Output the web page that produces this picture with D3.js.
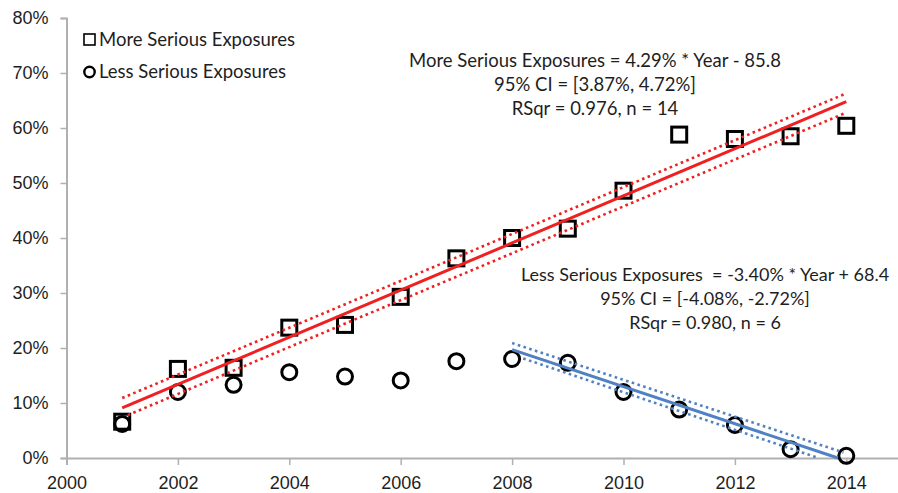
<!DOCTYPE html>
<html>
<head>
<meta charset="utf-8">
<script src="https://cdn.jsdelivr.net/npm/d3@7"></script>
<style>
  body { margin: 0; background: #fff; }
  svg { display: block; font-family: Lato, "Open Sans", sans-serif; }
</style>
</head>
<body>
<svg width="898" height="493"></svg>
<script>
// data
var years = [2001, 2002, 2003, 2004, 2005, 2006, 2007, 2008, 2009, 2010, 2011, 2012, 2013, 2014];
var moreSerious = [6.6, 16.2, 16.4, 23.7, 24.2, 29.3, 36.3, 40.0, 41.7, 48.6, 58.8, 58.0, 58.5, 60.4];
var lessSerious = [6.2, 12.0, 13.3, 15.6, 14.8, 14.1, 17.6, 18.0, 17.3, 12.0, 8.8, 6.0, 1.6, 0.4];

// trend lines and their confidence bounds (year, percent)
var moreFit = [[2001, 9.1], [2014, 64.8]];
var moreUpper = [[2001, 10.9], [2014, 66.3]];
var moreLower = [[2001.1, 7.8], [2014, 62.8]];
var lessFit = [[2008, 19.7], [2013.85, 0]];
var lessUpper = [[2008, 20.9], [2013.95, 1.0]];
var lessLower = [[2008.2, 18.1], [2013.5, 0]];

var yTicks = [0, 10, 20, 30, 40, 50, 60, 70, 80];
var xTicks = [2000, 2002, 2004, 2006, 2008, 2010, 2012, 2014];

var moreLabel = ["More Serious Exposures = 4.29% * Year - 85.8", "95% CI = [3.87%, 4.72%]", "RSqr = 0.976, n = 14"];
var lessLabel = ["Less Serious Exposures  = -3.40% * Year + 68.4", "95% CI = [-4.08%, -2.72%]", "RSqr = 0.980, n = 6"];

var svg = d3.select("svg");
var x = d3.scaleLinear().domain([2000, 2015]).range([66.5, 902]);
var y = d3.scaleLinear().domain([0, 80]).range([458, 18]);
var axisColor = "#b0b0b0";
var textColor = "#1e1e1e";

// y axis
var gy = svg.append("g")
  .attr("transform", "translate(66.5,0)")
  .call(d3.axisLeft(y).tickValues(yTicks).tickSize(6).tickPadding(12)
    .tickFormat(function(d) { return d + "%"; }));
gy.select(".domain").attr("stroke", axisColor).attr("stroke-width", 2);
gy.selectAll(".tick line").attr("stroke", axisColor).attr("stroke-width", 1.5);
gy.selectAll("text").attr("fill", textColor).attr("font-size", 18);

// x axis
var gx = svg.append("g")
  .attr("transform", "translate(0,458)")
  .call(d3.axisBottom(x).tickValues(xTicks).tickSize(7).tickPadding(11)
    .tickFormat(d3.format("d")));
gx.select(".domain").attr("stroke", axisColor).attr("stroke-width", 2);
gx.selectAll(".tick line").attr("stroke", axisColor).attr("stroke-width", 1.5);
gx.selectAll("text").attr("fill", textColor).attr("font-size", 18);

// markers
var marks = svg.append("g");
marks.selectAll("rect.more")
  .data(years.map(function(yr, i) { return [yr, moreSerious[i]]; }))
  .enter().append("rect")
  .attr("class", "more")
  .attr("x", function(d) { return x(d[0]) - 7.5; })
  .attr("y", function(d) { return y(d[1]) - 7.5; })
  .attr("width", 15).attr("height", 15)
  .attr("fill", "none").attr("stroke", "#000").attr("stroke-width", 3);

marks.selectAll("circle.less")
  .data(years.map(function(yr, i) { return [yr, lessSerious[i]]; }))
  .enter().append("circle")
  .attr("class", "less")
  .attr("cx", function(d) { return x(d[0]); })
  .attr("cy", function(d) { return y(d[1]); })
  .attr("r", 7.5)
  .attr("fill", "none").attr("stroke", "#000").attr("stroke-width", 3);

// trend lines
var line = d3.line().x(function(d) { return x(d[0]); }).y(function(d) { return y(d[1]); });
var red = "#f02020", blue = "#4f81c4";
function trend(data, color, dotted) {
  svg.append("path").datum(data)
    .attr("d", line)
    .attr("fill", "none")
    .attr("stroke", color)
    .attr("stroke-width", dotted ? 2.6 : 3)
    .attr("stroke-dasharray", dotted ? "2.6,3.4" : null);
}
trend(moreUpper, red, true);
trend(moreLower, red, true);
trend(moreFit, red, false);
trend(lessUpper, blue, true);
trend(lessLower, blue, true);
trend(lessFit, blue, false);

// legend
var legend = svg.append("g").attr("font-size", 18.5).attr("fill", textColor);
legend.append("rect").attr("x", 84).attr("y", 34).attr("width", 11).attr("height", 11)
  .attr("fill", "none").attr("stroke", "#000").attr("stroke-width", 1.6);
legend.append("text").attr("x", 99).attr("y", 46).text("More Serious Exposures");
legend.append("circle").attr("cx", 89.5).attr("cy", 72).attr("r", 5.2)
  .attr("fill", "none").attr("stroke", "#000").attr("stroke-width", 2.4);
legend.append("text").attr("x", 99).attr("y", 78).text("Less Serious Exposures");

// equations
function note(lines, cx, top, size) {
  svg.append("g").attr("font-size", size).attr("fill", textColor).attr("text-anchor", "middle")
    .selectAll("text").data(lines).enter().append("text")
    .attr("x", cx)
    .attr("y", function(d, i) { return top + i * 24; })
    .attr("xml:space", "preserve")
    .style("white-space", "pre")
    .text(function(d) { return d; });
}
note(moreLabel, 595, 67, 18.5);
note(lessLabel, 705, 281, 18);
</script>
</body>
</html>
